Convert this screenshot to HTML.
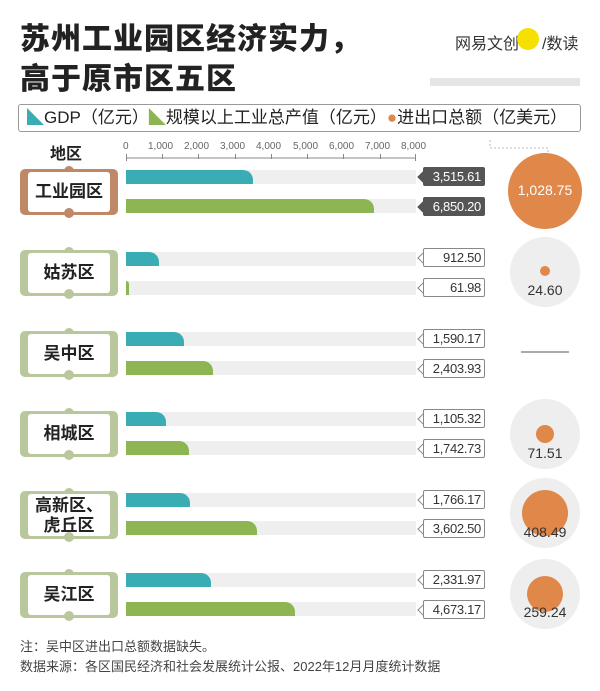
<!DOCTYPE html>
<html><head><meta charset="utf-8"><style>
*{margin:0;padding:0;box-sizing:border-box}
body{width:600px;height:691px;background:#fff;font-family:"Liberation Sans","Noto Sans CJK SC",sans-serif;position:relative;overflow:hidden;color:#222}
.a{position:absolute}
.t{font-size:30px;font-weight:900;left:20px;line-height:40px;letter-spacing:1px}
.track{position:absolute;left:126px;width:290px;height:14px;background:#efefef}
.bar{position:absolute;left:126px;height:14px;border-radius:0 10px 0 0}
.g{background:#3aacb3}.n{background:#8db552}
.lab{position:absolute;left:423px;width:62px;height:19px;border:1px solid #888;border-radius:2px;font-size:13px;text-align:right;padding-right:3px;line-height:18px;color:#333;background:#fff;letter-spacing:-0.3px}
.lab:before{content:"";position:absolute;left:-5px;top:5px;width:7px;height:7px;border-left:1px solid #888;border-bottom:1px solid #888;transform:rotate(45deg);background:#fff;z-index:-1}
.lab span{position:relative}
.dk{background:#555;color:#fff;border-color:#555}
.dk:before{background:#555;border-color:#555}
.reg{position:absolute;left:20px;width:98px;height:46px;border-radius:5px;background:#b9c89c}
.reg div{position:absolute;left:8px;top:3px;width:82px;height:40px;background:#fff;border-radius:3px;font-size:17px;font-weight:bold;text-align:center;line-height:40px}
.reg:before,.reg:after{content:"";position:absolute;left:44px;width:10px;height:10px;border-radius:5px;background:inherit}
.reg:before{top:-3px}.reg:after{bottom:-3px}
.bg{position:absolute;left:510px;width:70px;height:70px;border-radius:35px;background:#eeeeee}
.dot{position:absolute;background:#e0874a;border-radius:50%}
.v{position:absolute;font-size:14px;color:#333;width:70px;text-align:center;left:510px}
</style></head><body>
<div class="a t" style="top:20px">苏州工业园区经济实力，</div>
<div class="a t" style="top:60px">高于原市区五区</div>
<div class="a" style="left:455px;top:30px;font-size:16px;color:#333">网易文创</div>
<div class="a" style="left:517px;top:28px;width:22px;height:22px;border-radius:11px;background:#f5e000"></div>
<div class="a" style="left:542px;top:30px;font-size:16px;color:#333">/数读</div>
<div class="a" style="left:430px;top:78px;width:150px;height:8px;background:#e5e5e5"></div>
<div class="a" style="left:18px;top:104px;width:563px;height:28px;border:1px solid #999;border-radius:3px;font-size:17px;line-height:26px;padding-left:8px;white-space:nowrap">
<span style="color:#3aacb3">◣</span>GDP（亿元）<span style="color:#8db552">◣</span>规模以上工业总产值（亿元）<span style="color:#e0874a">●</span>进出口总额（亿美元）</div>
<div class="a" style="left:50px;top:140px;font-size:16px;font-weight:bold">地区</div>
<div class="a" style="left:123px;top:141px;font-size:10px;color:#666;word-spacing:0">
<span class="a" style="left:0">0</span><span class="a" style="left:25px">1,000</span><span class="a" style="left:61px">2,000</span><span class="a" style="left:97px">3,000</span><span class="a" style="left:133px">4,000</span><span class="a" style="left:170px">5,000</span><span class="a" style="left:206px">6,000</span><span class="a" style="left:242px">7,000</span><span class="a" style="left:278px">8,000</span></div>
<svg class="a" style="left:0;top:0" width="600" height="691"><g stroke="#888" stroke-width="1">
<line x1="126" y1="158" x2="416" y2="158"/>
<line x1="126.5" y1="154" x2="126.5" y2="161"/><line x1="162.5" y1="154" x2="162.5" y2="159"/><line x1="198.5" y1="154" x2="198.5" y2="159"/><line x1="235.5" y1="154" x2="235.5" y2="159"/><line x1="271.5" y1="154" x2="271.5" y2="159"/><line x1="307.5" y1="154" x2="307.5" y2="159"/><line x1="343.5" y1="154" x2="343.5" y2="159"/><line x1="380.5" y1="154" x2="380.5" y2="159"/><line x1="415.5" y1="154" x2="415.5" y2="161"/>
<polyline points="490,140 490,148 548,148 548,154" fill="none" stroke-dasharray="2,2" stroke="#bbb"/>
<line x1="521" y1="352" x2="569" y2="352" stroke="#555"/></g></svg>

<div class="reg" style="top:169px;background:#bf8866"><div>工业园区</div></div>
<div class="track" style="top:170px"></div><div class="bar g" style="top:170px;width:127px"></div>
<div class="track" style="top:199px"></div><div class="bar n" style="top:199px;width:248px"></div>
<div class="lab dk" style="top:167px"><span>3,515.61</span></div><div class="lab dk" style="top:197px"><span>6,850.20</span></div>
<div class="dot" style="left:508px;top:153px;width:74px;height:76px"></div>
<div class="v" style="top:182px;color:#fff;left:508px;width:74px">1,028.75</div>

<div class="reg" style="top:250px"><div>姑苏区</div></div>
<div class="track" style="top:252px"></div><div class="bar g" style="top:252px;width:33px"></div>
<div class="track" style="top:281px"></div><div class="bar n" style="top:281px;width:3px"></div>
<div class="lab" style="top:248px"><span>912.50</span></div><div class="lab" style="top:278px"><span>61.98</span></div>
<div class="bg" style="top:237px"></div><div class="dot" style="left:540px;top:266px;width:10px;height:10px"></div>
<div class="v" style="top:282px">24.60</div>

<div class="reg" style="top:331px"><div>吴中区</div></div>
<div class="track" style="top:332px"></div><div class="bar g" style="top:332px;width:58px"></div>
<div class="track" style="top:361px"></div><div class="bar n" style="top:361px;width:87px"></div>
<div class="lab" style="top:329px"><span>1,590.17</span></div><div class="lab" style="top:359px"><span>2,403.93</span></div>

<div class="reg" style="top:411px"><div>相城区</div></div>
<div class="track" style="top:412px"></div><div class="bar g" style="top:412px;width:40px"></div>
<div class="track" style="top:441px"></div><div class="bar n" style="top:441px;width:63px"></div>
<div class="lab" style="top:409px"><span>1,105.32</span></div><div class="lab" style="top:439px"><span>1,742.73</span></div>
<div class="bg" style="top:399px"></div><div class="dot" style="left:536px;top:425px;width:18px;height:18px"></div>
<div class="v" style="top:445px">71.51</div>

<div class="reg" style="top:491px;height:48px"><div style="line-height:20px;padding-top:2px;height:42px">高新区、<br>虎丘区</div></div>
<div class="track" style="top:493px"></div><div class="bar g" style="top:493px;width:64px"></div>
<div class="track" style="top:521px"></div><div class="bar n" style="top:521px;width:131px"></div>
<div class="lab" style="top:490px"><span>1,766.17</span></div><div class="lab" style="top:519px"><span>3,602.50</span></div>
<div class="bg" style="top:478px"></div><div class="dot" style="left:522px;top:490px;width:46px;height:46px"></div>
<div class="v" style="top:524px">408.49</div>

<div class="reg" style="top:572px"><div>吴江区</div></div>
<div class="track" style="top:573px"></div><div class="bar g" style="top:573px;width:85px"></div>
<div class="track" style="top:602px"></div><div class="bar n" style="top:602px;width:169px"></div>
<div class="lab" style="top:570px"><span>2,331.97</span></div><div class="lab" style="top:600px"><span>4,673.17</span></div>
<div class="bg" style="top:559px"></div><div class="dot" style="left:527px;top:576px;width:36px;height:36px"></div>
<div class="v" style="top:604px">259.24</div>

<div class="a" style="left:20px;top:636px;font-size:13px;color:#444">注：吴中区进出口总额数据缺失。</div>
<div class="a" style="left:20px;top:656px;font-size:13px;color:#444">数据来源：各区国民经济和社会发展统计公报、2022年12月月度统计数据</div>
</body></html>
